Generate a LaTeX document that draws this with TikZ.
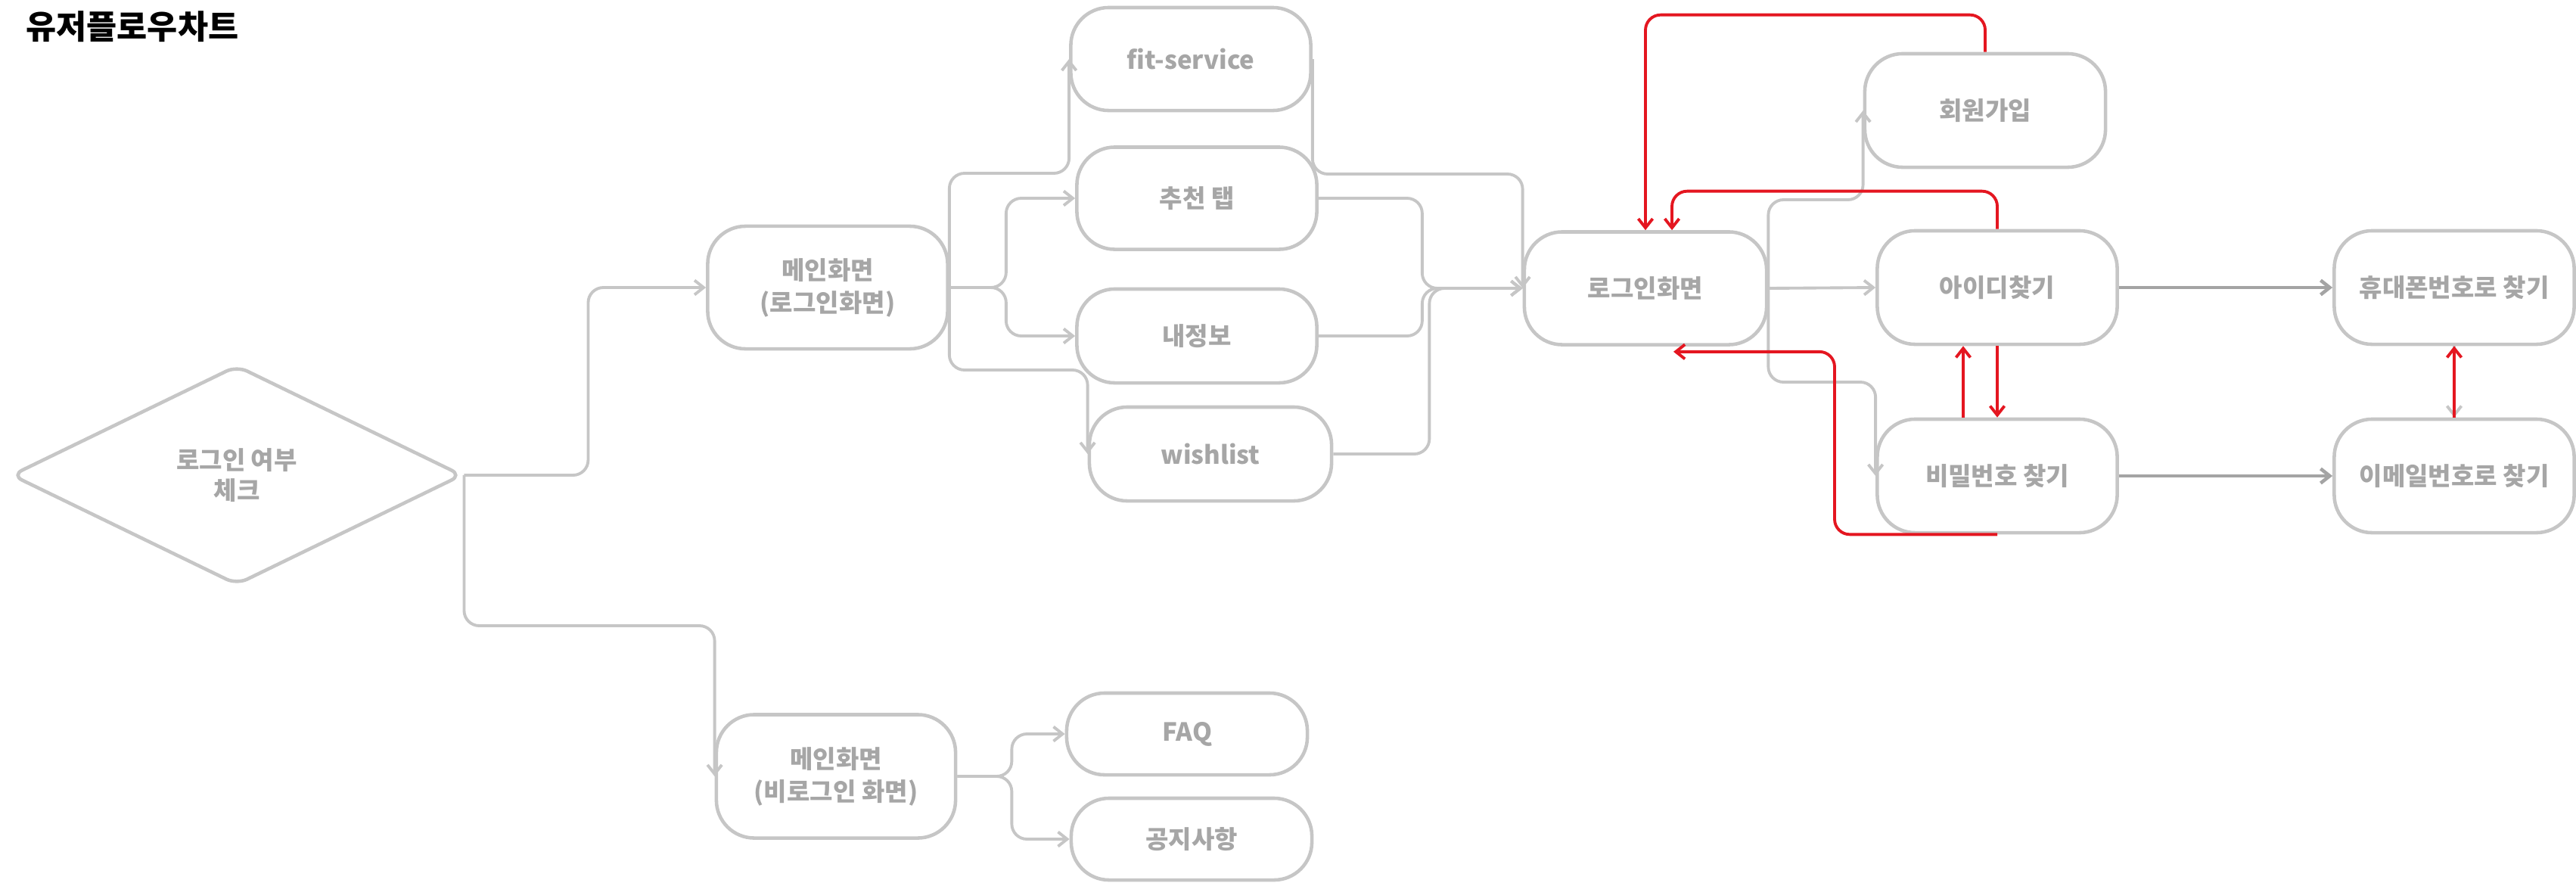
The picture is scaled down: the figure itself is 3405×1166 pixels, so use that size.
\documentclass[tikz,border=0pt]{standalone}
\usepackage{fontspec}
\setmainfont{Noto Sans CJK KR}
\usetikzlibrary{arrows.meta}
\usetikzlibrary{shapes.geometric}
\definecolor{boxgray}{RGB}{198,198,198}
\definecolor{txtgray}{RGB}{166,166,166}
\definecolor{arrowgray}{RGB}{164,164,164}
\definecolor{backred}{RGB}{228,22,32}

\begin{document}
\begin{tikzpicture}[x=0.01cm, y=-0.01cm, >={Straight Barb[length=1.2mm,width=1.9mm]},
    screen/.style={draw=boxgray, line width=1.3pt, rounded corners=0.5cm, text=txtgray,
        font=\bfseries\fontsize{9.4}{12.2}\selectfont, align=center, inner sep=0pt,
        minimum width=3.17cm, minimum height=1.5cm},
    decision/.style={diamond, aspect=2.07, draw=boxgray, line width=1.3pt, rounded corners=0.15cm,
        text=txtgray, font=\bfseries\fontsize{9.4}{11.5}\selectfont, align=center, inner sep=0pt,
        minimum width=5.96cm, minimum height=2.9cm},
    flow/.style={draw=boxgray, line width=1.1pt, rounded corners=0.2cm, ->},
    back/.style={draw=backred, line width=1.1pt, rounded corners=0.2cm, ->}]

    \useasboundingbox (0,0) rectangle (3405,1166);

    \node[anchor=west, font=\bfseries\fontsize{12.4}{14}\selectfont] (title) at (22,35) {유저플로우차트};

    \node[decision] (check) at (313,628) {로그인 여부\\체크};

    \node[screen, minimum height=1.62cm] (mainin) at (1094,380) {메인화면\\(로그인화면)};
    \node[screen, minimum height=1.36cm] (fit) at (1574,78) {fit-service};
    \node[screen, minimum height=1.35cm] (rec) at (1582,262) {추천 탭};
    \node[screen, minimum height=1.24cm] (mine) at (1582,444) {내정보};
    \node[screen, minimum width=3.2cm, minimum height=1.24cm] (wish) at (1600,600) {wishlist};

    \node[screen, minimum width=3.2cm, minimum height=1.49cm] (login) at (2175,381) {로그인화면};
    \node[screen, minimum width=3.18cm] (join) at (2624,146) {회원가입};
    \node[screen] (findid) at (2640,380) {아이디찾기};
    \node[screen] (findpw) at (2640,629) {비밀번호 찾기};
    \node[screen] (phone) at (3244,380) {휴대폰번호로 찾기};
    \node[screen] (email) at (3244,629) {이메일번호로 찾기};

    \node[screen, minimum width=3.16cm, minimum height=1.63cm] (mainout) at (1105,1026) {메인화면\\(비로그인 화면)};
    \node[screen, minimum width=3.18cm, minimum height=1.08cm] (faq) at (1569,970) {FAQ};
    \node[screen, minimum width=3.18cm, minimum height=1.08cm] (notice) at (1575,1109) {공지사항};

    \draw[flow] (check.east) -- ++(164,0) |- (mainin.west);
    \draw[flow] (check.east) -- ++(0,199) -| (mainout.west);

    \draw[flow] (mainin.east) -- ++(0,-151) -| (fit.west);
    \draw[flow] (mainin.east) -- ++(75,0) |- (rec.west);
    \draw[flow] (mainin.east) -- ++(75,0) |- (mine.west);
    \draw[flow] (mainin.east) -- ++(0,109) -| (wish.west);

    \draw[flow] (fit.east) -- ++(0,152) -| (login.west);
    \draw[flow] (rec.east) -- ++(137,0) |- (login.west);
    \draw[flow] (mine.east) -- ++(137,0) |- (login.west);
    \draw[flow] (wish.east) -- ++(127,0) |- (login.west);

    \draw[flow] (mainout.east) -- ++(72,0) |- (faq.west);
    \draw[flow] (mainout.east) -- ++(72,0) |- (notice.west);

    \draw[flow] (login.east) -- ++(0,-117) -| (join.west);
    \draw[flow] (login.east) -- (findid.west);
    \draw[flow] (login.east) -- ++(0,124) -| (findpw.west);

    \draw[flow, draw=arrowgray, line width=1.3pt] (findid.east) -- (phone.west);
    \draw[flow, draw=arrowgray, line width=1.3pt] (findpw.east) -- (email.west);
    \draw[flow] (phone.south) -- (email.north);

    \coordinate (loginret) at ([xshift=0.37cm, yshift=-0.07cm]login.south);
    \draw[back] (join.north) -- ++(0,-49) -| (login.north);
    \draw[back] (findid.north) -- ++(0,-50) -| ([xshift=0.35cm]login.north);
    \draw[back] (findpw.south) -- ++(-215,0) |- (loginret);
    \draw[back] ([xshift=-0.45cm]findpw.north) -- ([xshift=-0.45cm]findid.south);
    \draw[back] (findid.south) -- (findpw.north);
    \draw[back] (email.north) -- (phone.south);

\end{tikzpicture}
\end{document}
